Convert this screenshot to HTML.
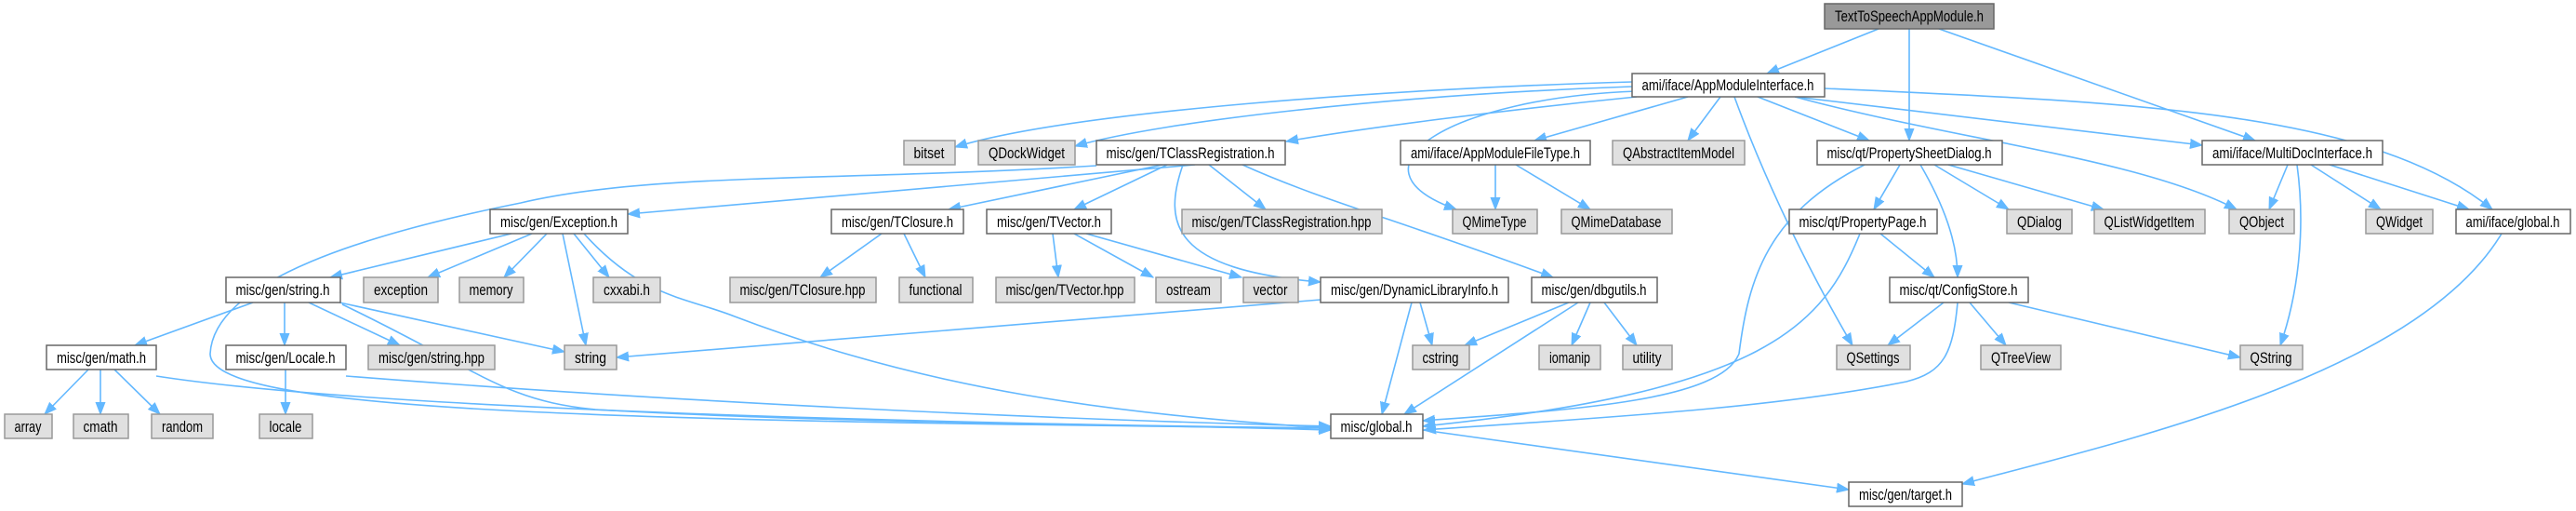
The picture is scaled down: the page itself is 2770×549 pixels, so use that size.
<!DOCTYPE html>
<html><head><meta charset="utf-8"><style>
html,body{margin:0;padding:0;background:#fff;width:2770px;height:549px;overflow:hidden}
svg{display:block}
text{font-family:"Liberation Sans",Arial,sans-serif;font-size:17px;fill:#000}
.e{fill:none;stroke:#63B8FF;stroke-width:1.6}
.d{fill:#fff;stroke:#666;stroke-width:1.5}
.x{fill:#E0E0E0;stroke:#999;stroke-width:1.5}
.r{fill:#999;stroke:#666;stroke-width:1.5}
</style></head><body>
<svg width="2770" height="549" viewBox="0 0 2770 549" xmlns="http://www.w3.org/2000/svg">
<defs><marker id="a" markerUnits="userSpaceOnUse" markerWidth="14" markerHeight="12" refX="13" refY="6" orient="auto"><path d="M0,1 L13,6 L0,11 z" fill="#63B8FF" stroke="#63B8FF"/></marker></defs>
<g class="edges" marker-end="url(#a)">
<path class="e" d="M2020,31 L1900,79"/>
<path class="e" d="M2053,31 L2053,151"/>
<path class="e" d="M2085,31 L2425,151"/>
<path class="e" d="M1755,88 C1500,95 1150,120 1027,158"/>
<path class="e" d="M1755,93 C1500,102 1250,130 1156,157"/>
<path class="e" d="M1760,104 C1600,120 1450,140 1383,152"/>
<path class="e" d="M1760,98 C1560,105 1440,180 1566,225"/>
<path class="e" d="M1815,104 L1650,151"/>
<path class="e" d="M1850,104 L1815,151"/>
<path class="e" d="M1865,104 C1900,200 1950,300 1992,371"/>
<path class="e" d="M1890,104 L2010,151"/>
<path class="e" d="M1930,104 C2100,150 2300,170 2405,225"/>
<path class="e" d="M1930,104 L2368,156"/>
<path class="e" d="M1962,95 C2300,110 2550,120 2680,225"/>
<path class="e" d="M1285,177 L675,230"/>
<path class="e" d="M1179,178 C900,195 700,185 560,218 C400,250 230,300 226,380 C225,440 600,452 1431,460"/>
<path class="e" d="M1250,177 L1020,225"/>
<path class="e" d="M1255,177 L1155,225"/>
<path class="e" d="M1300,177 L1361,225"/>
<path class="e" d="M1272,177 C1250,240 1260,290 1420,303"/>
<path class="e" d="M1336,177 C1420,215 1500,235 1670,298"/>
<path class="e" d="M550,251 L355,298"/>
<path class="e" d="M572,251 L460,298"/>
<path class="e" d="M588,251 L542,298"/>
<path class="e" d="M605,251 L630,371"/>
<path class="e" d="M617,251 L655,298"/>
<path class="e" d="M628,251 C690,320 740,320 790,340 C1000,420 1200,445 1431,460"/>
<path class="e" d="M948,251 L882,298"/>
<path class="e" d="M972,251 L995,298"/>
<path class="e" d="M1132,251 L1138,298"/>
<path class="e" d="M1155,251 L1240,298"/>
<path class="e" d="M1168,251 L1335,298"/>
<path class="e" d="M272,325 L145,371"/>
<path class="e" d="M306,325 L306,371"/>
<path class="e" d="M332,325 L430,371"/>
<path class="e" d="M365,325 L607,378"/>
<path class="e" d="M368,327 C520,400 540,430 640,440 C900,455 1200,455 1431,462"/>
<path class="e" d="M95,397 L48,445"/>
<path class="e" d="M108,397 L108,445"/>
<path class="e" d="M123,397 L172,445"/>
<path class="e" d="M168,404 C400,440 1000,455 1431,460"/>
<path class="e" d="M307,397 L307,445"/>
<path class="e" d="M372,404 C700,430 1100,450 1431,458"/>
<path class="e" d="M1420,322 L663,384"/>
<path class="e" d="M1527,325 L1540,371"/>
<path class="e" d="M1518,325 L1486,445"/>
<path class="e" d="M1687,325 L1575,371"/>
<path class="e" d="M1697,325 L1510,445"/>
<path class="e" d="M1710,325 L1690,371"/>
<path class="e" d="M1725,325 L1760,371"/>
<path class="e" d="M2005,177 C1900,230 1880,300 1870,380 C1850,430 1700,440 1530,452"/>
<path class="e" d="M2043,177 L2015,225"/>
<path class="e" d="M2065,177 C2090,220 2105,260 2105,298"/>
<path class="e" d="M2080,177 L2160,225"/>
<path class="e" d="M2095,177 L2262,225"/>
<path class="e" d="M2022,251 L2080,298"/>
<path class="e" d="M2000,251 C1960,350 1900,420 1530,458"/>
<path class="e" d="M2460,177 L2440,225"/>
<path class="e" d="M2485,177 L2560,225"/>
<path class="e" d="M2505,177 L2655,225"/>
<path class="e" d="M2470,177 C2480,250 2470,320 2452,371"/>
<path class="e" d="M2090,325 L2030,371"/>
<path class="e" d="M2118,325 L2157,371"/>
<path class="e" d="M2160,325 L2409,384"/>
<path class="e" d="M2105,325 C2100,380 2090,400 2050,410 C1900,440 1700,450 1531,462"/>
<path class="e" d="M1608,177 L1608,225"/>
<path class="e" d="M1630,177 L1710,225"/>
<path class="e" d="M1530,462 L1988,526"/>
<path class="e" d="M2690,251 C2600,400 2300,470 2110,520"/>
</g>
<g>
<rect class="r" x="1962" y="4" width="182" height="27"/><text x="2053" y="23" text-anchor="middle" textLength="160" lengthAdjust="spacingAndGlyphs">TextToSpeechAppModule.h</text>
<rect class="d" x="1755" y="79" width="207" height="25"/><text x="1858" y="97" text-anchor="middle" textLength="185" lengthAdjust="spacingAndGlyphs">ami/iface/AppModuleInterface.h</text>

<rect class="x" x="972" y="151" width="55" height="26"/><text x="999" y="170" text-anchor="middle" textLength="33" lengthAdjust="spacingAndGlyphs">bitset</text>
<rect class="x" x="1052" y="151" width="104" height="26"/><text x="1104" y="170" text-anchor="middle" textLength="82" lengthAdjust="spacingAndGlyphs">QDockWidget</text>
<rect class="d" x="1179" y="151" width="203" height="26"/><text x="1280" y="170" text-anchor="middle" textLength="181" lengthAdjust="spacingAndGlyphs">misc/gen/TClassRegistration.h</text>
<rect class="d" x="1506" y="151" width="204" height="26"/><text x="1608" y="170" text-anchor="middle" textLength="182" lengthAdjust="spacingAndGlyphs">ami/iface/AppModuleFileType.h</text>
<rect class="x" x="1734" y="151" width="142" height="26"/><text x="1805" y="170" text-anchor="middle" textLength="120" lengthAdjust="spacingAndGlyphs">QAbstractItemModel</text>
<rect class="d" x="1954" y="151" width="199" height="26"/><text x="2053" y="170" text-anchor="middle" textLength="177" lengthAdjust="spacingAndGlyphs">misc/qt/PropertySheetDialog.h</text>
<rect class="d" x="2368" y="151" width="194" height="26"/><text x="2465" y="170" text-anchor="middle" textLength="172" lengthAdjust="spacingAndGlyphs">ami/iface/MultiDocInterface.h</text>

<rect class="d" x="527" y="225" width="148" height="26"/><text x="601" y="244" text-anchor="middle" textLength="126" lengthAdjust="spacingAndGlyphs">misc/gen/Exception.h</text>
<rect class="d" x="894" y="225" width="142" height="26"/><text x="965" y="244" text-anchor="middle" textLength="120" lengthAdjust="spacingAndGlyphs">misc/gen/TClosure.h</text>
<rect class="d" x="1061" y="225" width="134" height="26"/><text x="1128" y="244" text-anchor="middle" textLength="112" lengthAdjust="spacingAndGlyphs">misc/gen/TVector.h</text>
<rect class="x" x="1271" y="225" width="215" height="26"/><text x="1378" y="244" text-anchor="middle" textLength="193" lengthAdjust="spacingAndGlyphs">misc/gen/TClassRegistration.hpp</text>
<rect class="x" x="1562" y="225" width="91" height="26"/><text x="1607" y="244" text-anchor="middle" textLength="69" lengthAdjust="spacingAndGlyphs">QMimeType</text>
<rect class="x" x="1679" y="225" width="119" height="26"/><text x="1738" y="244" text-anchor="middle" textLength="97" lengthAdjust="spacingAndGlyphs">QMimeDatabase</text>
<rect class="d" x="1924" y="225" width="159" height="26"/><text x="2003" y="244" text-anchor="middle" textLength="137" lengthAdjust="spacingAndGlyphs">misc/qt/PropertyPage.h</text>
<rect class="x" x="2158" y="225" width="70" height="26"/><text x="2193" y="244" text-anchor="middle" textLength="48" lengthAdjust="spacingAndGlyphs">QDialog</text>
<rect class="x" x="2252" y="225" width="119" height="26"/><text x="2311" y="244" text-anchor="middle" textLength="97" lengthAdjust="spacingAndGlyphs">QListWidgetItem</text>
<rect class="x" x="2397" y="225" width="70" height="26"/><text x="2432" y="244" text-anchor="middle" textLength="48" lengthAdjust="spacingAndGlyphs">QObject</text>
<rect class="x" x="2544" y="225" width="72" height="26"/><text x="2580" y="244" text-anchor="middle" textLength="50" lengthAdjust="spacingAndGlyphs">QWidget</text>
<rect class="d" x="2641" y="225" width="123" height="26"/><text x="2702" y="244" text-anchor="middle" textLength="101" lengthAdjust="spacingAndGlyphs">ami/iface/global.h</text>

<rect class="d" x="243" y="298" width="123" height="27"/><text x="304" y="317" text-anchor="middle" textLength="101" lengthAdjust="spacingAndGlyphs">misc/gen/string.h</text>
<rect class="x" x="391" y="298" width="80" height="27"/><text x="431" y="317" text-anchor="middle" textLength="58" lengthAdjust="spacingAndGlyphs">exception</text>
<rect class="x" x="494" y="298" width="69" height="27"/><text x="528" y="317" text-anchor="middle" textLength="47" lengthAdjust="spacingAndGlyphs">memory</text>
<rect class="x" x="638" y="298" width="72" height="27"/><text x="674" y="317" text-anchor="middle" textLength="50" lengthAdjust="spacingAndGlyphs">cxxabi.h</text>
<rect class="x" x="785" y="298" width="157" height="27"/><text x="863" y="317" text-anchor="middle" textLength="135" lengthAdjust="spacingAndGlyphs">misc/gen/TClosure.hpp</text>
<rect class="x" x="967" y="298" width="79" height="27"/><text x="1006" y="317" text-anchor="middle" textLength="57" lengthAdjust="spacingAndGlyphs">functional</text>
<rect class="x" x="1071" y="298" width="149" height="27"/><text x="1145" y="317" text-anchor="middle" textLength="127" lengthAdjust="spacingAndGlyphs">misc/gen/TVector.hpp</text>
<rect class="x" x="1243" y="298" width="70" height="27"/><text x="1278" y="317" text-anchor="middle" textLength="48" lengthAdjust="spacingAndGlyphs">ostream</text>
<rect class="x" x="1337" y="298" width="59" height="27"/><text x="1366" y="317" text-anchor="middle" textLength="37" lengthAdjust="spacingAndGlyphs">vector</text>
<rect class="d" x="1420" y="298" width="202" height="27"/><text x="1521" y="317" text-anchor="middle" textLength="180" lengthAdjust="spacingAndGlyphs">misc/gen/DynamicLibraryInfo.h</text>
<rect class="d" x="1647" y="298" width="135" height="27"/><text x="1714" y="317" text-anchor="middle" textLength="113" lengthAdjust="spacingAndGlyphs">misc/gen/dbgutils.h</text>
<rect class="d" x="2032" y="298" width="149" height="27"/><text x="2106" y="317" text-anchor="middle" textLength="127" lengthAdjust="spacingAndGlyphs">misc/qt/ConfigStore.h</text>

<rect class="d" x="50" y="371" width="118" height="26"/><text x="109" y="390" text-anchor="middle" textLength="96" lengthAdjust="spacingAndGlyphs">misc/gen/math.h</text>
<rect class="d" x="243" y="371" width="129" height="26"/><text x="307" y="390" text-anchor="middle" textLength="107" lengthAdjust="spacingAndGlyphs">misc/gen/Locale.h</text>
<rect class="x" x="396" y="371" width="136" height="26"/><text x="464" y="390" text-anchor="middle" textLength="114" lengthAdjust="spacingAndGlyphs">misc/gen/string.hpp</text>
<rect class="x" x="607" y="371" width="56" height="26"/><text x="635" y="390" text-anchor="middle" textLength="34" lengthAdjust="spacingAndGlyphs">string</text>
<rect class="x" x="1519" y="371" width="61" height="26"/><text x="1549" y="390" text-anchor="middle" textLength="39" lengthAdjust="spacingAndGlyphs">cstring</text>
<rect class="x" x="1655" y="371" width="66" height="26"/><text x="1688" y="390" text-anchor="middle" textLength="44" lengthAdjust="spacingAndGlyphs">iomanip</text>
<rect class="x" x="1745" y="371" width="53" height="26"/><text x="1771" y="390" text-anchor="middle" textLength="31" lengthAdjust="spacingAndGlyphs">utility</text>
<rect class="x" x="1975" y="371" width="79" height="26"/><text x="2014" y="390" text-anchor="middle" textLength="57" lengthAdjust="spacingAndGlyphs">QSettings</text>
<rect class="x" x="2130" y="371" width="86" height="26"/><text x="2173" y="390" text-anchor="middle" textLength="64" lengthAdjust="spacingAndGlyphs">QTreeView</text>
<rect class="x" x="2409" y="371" width="67" height="26"/><text x="2442" y="390" text-anchor="middle" textLength="45" lengthAdjust="spacingAndGlyphs">QString</text>

<rect class="x" x="5" y="445" width="51" height="26"/><text x="30" y="464" text-anchor="middle" textLength="29" lengthAdjust="spacingAndGlyphs">array</text>
<rect class="x" x="79" y="445" width="59" height="26"/><text x="108" y="464" text-anchor="middle" textLength="37" lengthAdjust="spacingAndGlyphs">cmath</text>
<rect class="x" x="163" y="445" width="66" height="26"/><text x="196" y="464" text-anchor="middle" textLength="44" lengthAdjust="spacingAndGlyphs">random</text>
<rect class="x" x="279" y="445" width="57" height="26"/><text x="307" y="464" text-anchor="middle" textLength="35" lengthAdjust="spacingAndGlyphs">locale</text>
<rect class="d" x="1431" y="445" width="99" height="26"/><text x="1480" y="464" text-anchor="middle" textLength="77" lengthAdjust="spacingAndGlyphs">misc/global.h</text>

<rect class="d" x="1988" y="518" width="122" height="26"/><text x="2049" y="537" text-anchor="middle" textLength="100" lengthAdjust="spacingAndGlyphs">misc/gen/target.h</text>
</g>
</svg>
</body></html>
